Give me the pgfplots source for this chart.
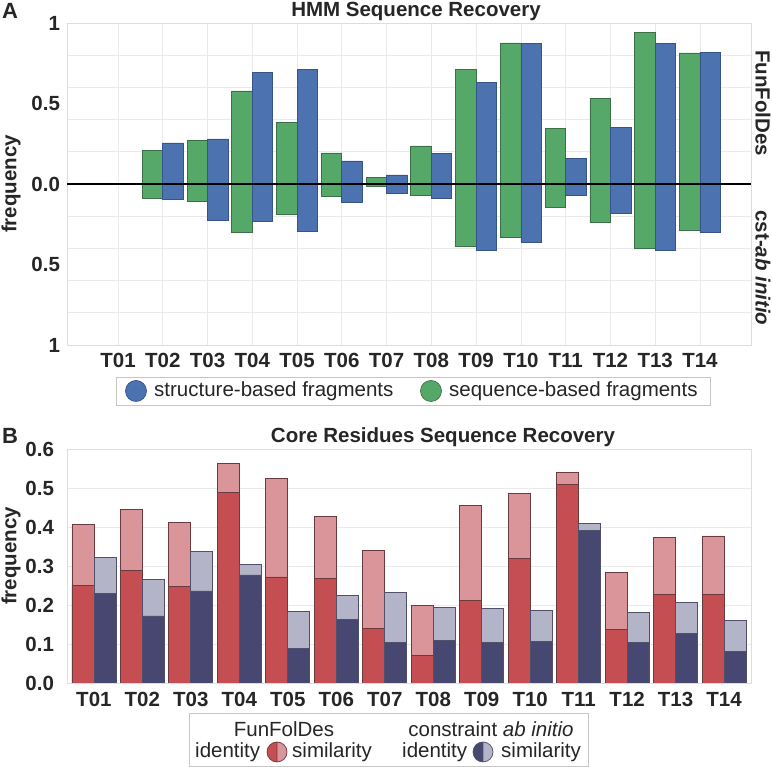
\documentclass[border=0pt]{standalone}
\usepackage{fontspec}
\setmainfont{Liberation Sans}
\usepackage{pgfplots}
\pgfplotsset{compat=1.18}
\definecolor{sgreen}{HTML}{55A868}
\definecolor{sgreenE}{HTML}{3B7048}
\definecolor{sblue}{HTML}{4C72B0}
\definecolor{sblueE}{HTML}{37548A}
\definecolor{rdark}{HTML}{C44E52}
\definecolor{rlight}{HTML}{D9959A}
\definecolor{ndark}{HTML}{474872}
\definecolor{nlight}{HTML}{B4B4C8}
\definecolor{edgeR}{HTML}{6B3A3F}
\definecolor{edgeN}{HTML}{50506A}
\definecolor{txt}{HTML}{262626}
\definecolor{gridc}{HTML}{EAEAEA}
\definecolor{framec}{HTML}{DDDDDD}
\begin{document}
\fontsize{20.5}{24}\selectfont
\begin{tikzpicture}[x=1pt,y=1pt]
% ---------------- Panel A ----------------
\begin{axis}[
  at={(67pt,422pt)}, anchor=south west, scale only axis,
  width=684pt, height=322pt,
  xmin=-0.14, xmax=15.14, ymin=-1, ymax=1,
  xtick={1,...,14},
  xticklabels={T01,T02,T03,T04,T05,T06,T07,T08,T09,T10,T11,T12,T13,T14},
  ytick={-1,-0.5,0,0.5,1},
  yticklabels={1,0.5,0.0,0.5,1},
  minor ytick={-0.8,-0.6,-0.4,-0.2,0.2,0.4,0.6,0.8},
  xmajorgrids, yminorgrids,
  grid style={gridc, line width=0.8pt},
  minor grid style={gridc, line width=0.8pt},
  axis line style={framec, line width=0.8pt},
  tick style={draw=none},
  ticklabel style={font=\fontsize{20.5}{24}\selectfont\bfseries, text=txt},
  xticklabel style={yshift=-1pt},
]
% sequence-based (green)
\addplot[ybar, bar width=20.5pt, bar shift=-10.25pt, fill=sgreen, draw=sgreenE, line width=0.8pt]
  coordinates {(2,0.21)(3,0.273)(4,0.578)(5,0.385)(6,0.193)(7,0.043)(8,0.236)(9,0.71)(10,0.876)(11,0.347)(12,0.532)(13,0.94)(14,0.814)};
\addplot[ybar, bar width=20.5pt, bar shift=-10.25pt, fill=sgreen, draw=sgreenE, line width=0.8pt]
  coordinates {(2,-0.087)(3,-0.106)(4,-0.30)(5,-0.186)(6,-0.08)(7,-0.017)(8,-0.07)(9,-0.385)(10,-0.33)(11,-0.145)(12,-0.238)(13,-0.397)(14,-0.29)};
% structure-based (blue)
\addplot[ybar, bar width=20.5pt, bar shift=10.25pt, fill=sblue, draw=sblueE, line width=0.8pt]
  coordinates {(2,0.255)(3,0.28)(4,0.69)(5,0.714)(6,0.143)(7,0.056)(8,0.19)(9,0.63)(10,0.874)(11,0.16)(12,0.352)(13,0.874)(14,0.818)};
\addplot[ybar, bar width=20.5pt, bar shift=10.25pt, fill=sblue, draw=sblueE, line width=0.8pt]
  coordinates {(2,-0.093)(3,-0.224)(4,-0.23)(5,-0.292)(6,-0.112)(7,-0.056)(8,-0.09)(9,-0.41)(10,-0.36)(11,-0.073)(12,-0.18)(13,-0.41)(14,-0.30)};
\addplot[black, line width=1.2pt] coordinates {(-0.14,0) (15.14,0)};
\end{axis}
% ---------------- Panel B ----------------
\begin{axis}[
  at={(67pt,84pt)}, anchor=south west, scale only axis,
  width=684pt, height=234pt,
  xmin=0.445, xmax=14.555, ymin=0, ymax=0.6,
  xtick={1,...,14},
  xticklabels={T01,T02,T03,T04,T05,T06,T07,T08,T09,T10,T11,T12,T13,T14},
  ytick={0,0.1,0.2,0.3,0.4,0.5,0.6},
  yticklabels={0.0,0.1,0.2,0.3,0.4,0.5,0.6},
  ymajorgrids,
  grid style={gridc, line width=0.8pt},
  axis line style={framec, line width=0.8pt},
  tick style={draw=none},
  ticklabel style={font=\fontsize{20.5}{24}\selectfont\bfseries, text=txt},
  xticklabel style={yshift=-2pt},
  yticklabel style={xshift=-6pt},
]
% FunFolDes similarity
\addplot[ybar, bar width=22pt, bar shift=-11pt, fill=rlight, draw=edgeR, line width=0.8pt]
  coordinates {(1,0.407)(2,0.444)(3,0.412)(4,0.562)(5,0.525)(6,0.427)(7,0.340)(8,0.199)(9,0.455)(10,0.486)(11,0.540)(12,0.283)(13,0.374)(14,0.377)};
% FunFolDes identity
\addplot[ybar, bar width=22pt, bar shift=-11pt, fill=rdark, draw=edgeR, line width=0.8pt]
  coordinates {(1,0.251)(2,0.289)(3,0.248)(4,0.489)(5,0.272)(6,0.267)(7,0.139)(8,0.070)(9,0.212)(10,0.320)(11,0.509)(12,0.138)(13,0.228)(14,0.227)};
% constraint ab initio similarity
\addplot[ybar, bar width=22pt, bar shift=11pt, fill=nlight, draw=edgeN, line width=0.8pt]
  coordinates {(1,0.322)(2,0.266)(3,0.338)(4,0.303)(5,0.184)(6,0.225)(7,0.232)(8,0.194)(9,0.192)(10,0.186)(11,0.409)(12,0.180)(13,0.207)(14,0.160)};
% constraint ab initio identity
\addplot[ybar, bar width=22pt, bar shift=11pt, fill=ndark, draw=edgeN, line width=0.8pt]
  coordinates {(1,0.229)(2,0.172)(3,0.236)(4,0.277)(5,0.088)(6,0.162)(7,0.104)(8,0.109)(9,0.103)(10,0.106)(11,0.391)(12,0.105)(13,0.126)(14,0.082)};
\end{axis}
% ---------------- texts ----------------
\begin{scope}[every node/.style={text=txt, inner sep=0pt}]
\node[font=\fontsize{22}{26}\selectfont\bfseries, anchor=base] at (10pt,748pt) {A};
\node[font=\fontsize{22}{26}\selectfont\bfseries, anchor=base] at (10pt,323pt) {B};
\node[font=\bfseries, anchor=base] at (416pt,750pt) {HMM Sequence Recovery};
\node[font=\bfseries, anchor=base] at (443pt,324pt) {Core Residues Sequence Recovery};
\node[font=\bfseries, rotate=90] at (11pt,583pt) {frequency};
\node[font=\bfseries, rotate=90] at (11pt,211pt) {frequency};
\node[font=\bfseries, rotate=-90] at (763pt,664pt) {FunFolDes};
\node[font=\bfseries, rotate=-90] at (763pt,499pt) {cst-\textit{ab initio}};
% legend A
\draw[gray!45, line width=0.8pt, fill=white] (116pt,390pt) rectangle (710pt,362pt);
\draw[fill=sblue, draw=sblueE, line width=0.7pt] (136pt,376pt) circle (10.5pt);
\node[anchor=west] at (154pt,376pt) {structure-based fragments};
\draw[fill=sgreen, draw=sgreenE, line width=0.7pt] (431pt,376pt) circle (10.5pt);
\node[anchor=west] at (449pt,376pt) {sequence-based fragments};
% legend B
\draw[gray!45, line width=0.8pt, fill=white] (189pt,54pt) rectangle (588pt,1pt);
\node at (284pt,38pt) {FunFolDes};
\node[anchor=west] at (195pt,15pt) {identity};
\fill[rdark] (277pt,25pt) arc (90:270:10pt) -- cycle;
\fill[rlight] (277pt,5pt) arc (-90:90:10pt) -- cycle;
\draw[edgeR, line width=0.7pt] (277pt,15pt) circle (10pt) (277pt,25pt) -- (277pt,5pt);
\node[anchor=west] at (292pt,15pt) {similarity};
\node at (491pt,38pt) {constraint \textit{ab initio}};
\node[anchor=west] at (402pt,15pt) {identity};
\fill[ndark] (483pt,25pt) arc (90:270:10pt) -- cycle;
\fill[nlight] (483pt,5pt) arc (-90:90:10pt) -- cycle;
\draw[edgeN, line width=0.7pt] (483pt,15pt) circle (10pt) (483pt,25pt) -- (483pt,5pt);
\node[anchor=west] at (501pt,15pt) {similarity};
\end{scope}
\pgfresetboundingbox
\path[use as bounding box] (0pt,0pt) rectangle (772pt,767pt);
\end{tikzpicture}
\end{document}
